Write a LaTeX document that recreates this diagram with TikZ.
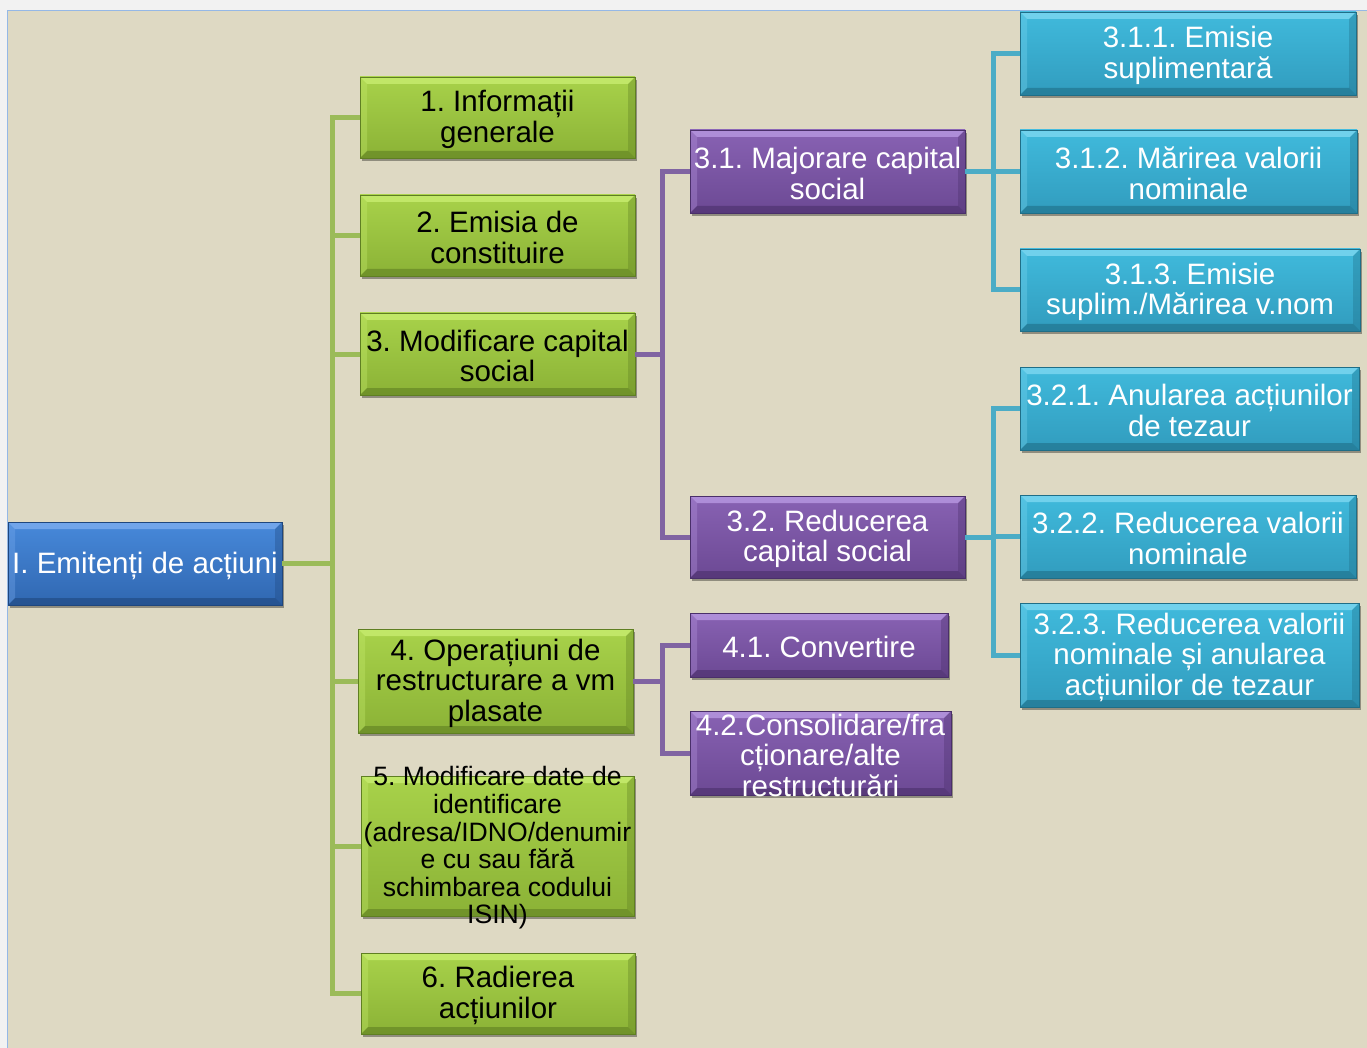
\documentclass[tikz,border=0pt]{standalone}
\usepackage{fontspec}
\setmainfont{Liberation Sans}
\frenchspacing
\usetikzlibrary{shadows}
\definecolor{outerbg}{HTML}{F2F2F2}
\definecolor{panel}{HTML}{DED9C3}
\definecolor{panelborder}{HTML}{95B8E6}
\definecolor{gA}{HTML}{A8D24A}\definecolor{gB}{HTML}{8BB236}\definecolor{gL}{HTML}{C6EC6E}\definecolor{gD}{HTML}{5F7F22}
\definecolor{cA}{HTML}{40BADC}\definecolor{cB}{HTML}{319CBE}\definecolor{cL}{HTML}{7AD6F0}\definecolor{cD}{HTML}{1F6E87}
\definecolor{pA}{HTML}{8862B3}\definecolor{pB}{HTML}{6C4994}\definecolor{pL}{HTML}{B696DF}\definecolor{pD}{HTML}{4A2F6A}
\definecolor{bA}{HTML}{4789DA}\definecolor{bB}{HTML}{3067B1}\definecolor{bL}{HTML}{79ABEE}\definecolor{bD}{HTML}{1F477E}
\definecolor{gline}{HTML}{9BBB59}
\definecolor{pline}{HTML}{8064A2}
\definecolor{cline}{HTML}{4BACC6}
\tikzset{
  bb/.style n args={4}{draw=#4, line width=0.6pt, top color=#1, bottom color=#2, inner sep=0pt,
    drop shadow={shadow xshift=2pt, shadow yshift=-3pt, opacity=0.35, fill=black},
    path picture={
      \fill[#3, opacity=0.85] (path picture bounding box.north west) -- (path picture bounding box.north east)
        -- ([xshift=-7pt,yshift=-7pt]path picture bounding box.north east) -- ([xshift=7pt,yshift=-7pt]path picture bounding box.north west) -- cycle;
      \fill[#3, opacity=0.35] (path picture bounding box.north west) -- (path picture bounding box.south west)
        -- ([xshift=7pt,yshift=7pt]path picture bounding box.south west) -- ([xshift=7pt,yshift=-7pt]path picture bounding box.north west) -- cycle;
      \fill[#4, opacity=0.35] (path picture bounding box.north east) -- (path picture bounding box.south east)
        -- ([xshift=-7pt,yshift=7pt]path picture bounding box.south east) -- ([xshift=-7pt,yshift=-7pt]path picture bounding box.north east) -- cycle;
      \fill[#4, opacity=0.6] (path picture bounding box.south west) -- (path picture bounding box.south east)
        -- ([xshift=-7pt,yshift=7pt]path picture bounding box.south east) -- ([xshift=7pt,yshift=7pt]path picture bounding box.south west) -- cycle;
    }},
  gbox/.style={bb={gA}{gB}{gL}{gD}},
  cbox/.style={bb={cA}{cB}{cL}{cD}},
  pbox/.style={bb={pA}{pB}{pL}{pD}},
  rbox/.style={bb={bA}{bB}{bL}{bD}},
  wtxt/.style={text=white, align=center, inner sep=0pt, yshift=-2pt, font=\fontsize{29.5}{30.5}\selectfont},
  ktxt/.style={text=black, align=center, inner sep=0pt, yshift=-2pt, font=\fontsize{29.5}{30.5}\selectfont},
  gconn/.style={draw=gline, line width=5pt},
  pconn/.style={draw=pline, line width=5pt},
  cconn/.style={draw=cline, line width=5pt},
}
\begin{document}
\begin{tikzpicture}[x=1pt,y=-1pt]
\useasboundingbox (0,0) rectangle (1367,1048);
\fill[outerbg] (0,0) rectangle (1367,1048);
\fill[panel] (7,10) rectangle (1367,1048);
\draw[panelborder, line width=1.5pt] (7.5,1048) -- (7.5,10.5) -- (1367,10.5);

\node[rbox, minimum width=274pt, minimum height=83pt] (root) at (145,563.5) {};
\node[gbox, minimum width=275pt, minimum height=81pt] (g1) at (497.5,117.5) {};
\node[gbox, minimum width=275pt, minimum height=81pt] (g2) at (497.5,235.5) {};
\node[gbox, minimum width=275pt, minimum height=82pt] (g3) at (497.5,354) {};
\node[gbox, minimum width=275pt, minimum height=104pt] (g4) at (495.5,681) {};
\node[gbox, minimum width=273pt, minimum height=140pt] (g5) at (497.5,846) {};
\node[gbox, minimum width=274pt, minimum height=81pt] (g6) at (498,993.5) {};
\node[pbox, minimum width=275pt, minimum height=83pt] (p31) at (827.5,171.5) {};
\node[pbox, minimum width=275pt, minimum height=82pt] (p32) at (827.5,537) {};
\node[pbox, minimum width=258pt, minimum height=64pt] (p41) at (819,645) {};
\node[pbox, minimum width=261pt, minimum height=84pt] (p42) at (820.5,753) {};
\node[cbox, minimum width=336pt, minimum height=83pt] (c311) at (1188,53.5) {};
\node[cbox, minimum width=337pt, minimum height=83pt] (c312) at (1188.5,171.5) {};
\node[cbox, minimum width=340pt, minimum height=82pt] (c313) at (1190,290) {};
\node[cbox, minimum width=339pt, minimum height=83pt] (c321) at (1189.5,408.5) {};
\node[cbox, minimum width=336pt, minimum height=83pt] (c322) at (1188,536.5) {};
\node[cbox, minimum width=339pt, minimum height=104pt] (c323) at (1189.5,655) {};

\foreach \n in {g1,g2,g3,g4,g5,g6}
  \draw[gconn] (root.east) -- ++(50,0) |- (\n.west);
\foreach \n in {p31,p32}
  \draw[pconn] (g3.east) -- ++(27,0) |- (\n.west);
\foreach \n in {p41,p42}
  \draw[pconn] (g4.east) -- ++(29,0) |- (\n.west);
\foreach \n in {c311,c312,c313}
  \draw[cconn] (p31.east) -- ++(28,0) |- (\n.west);
\foreach \n in {c321,c322,c323}
  \draw[cconn] (p32.east) -- ++(28,0) |- (\n.west);

\node[wtxt] (troot) at (root.center) {I. Emitenți de acțiuni};
\node[ktxt] (tg1) at (g1.center) {1. Informații\\generale};
\node[ktxt] (tg2) at (g2.center) {2. Emisia de\\constituire};
\node[ktxt] (tg3) at (g3.center) {3. Modificare capital\\social};
\node[ktxt] (tg4) at (g4.center) {4. Operațiuni de\\restructurare a vm\\plasate};
\node[ktxt, font=\fontsize{26.6}{27.6}\selectfont] (tg5) at (g5.center) {5. Modificare date de\\identificare\\(adresa/IDNO/denumir\\e cu sau fără\\schimbarea codului\\ISIN)};
\node[ktxt] (tg6) at (g6.center) {6. Radierea\\acțiunilor};
\node[wtxt] (tp31) at (p31.center) {3.1. Majorare capital\\social};
\node[wtxt] (tp32) at (p32.center) {3.2. Reducerea\\capital social};
\node[wtxt] (tp41) at (p41.center) {4.1. Convertire};
\node[wtxt] (tp42) at (p42.center) {4.2.Consolidare/fra\\cționare/alte\\restructurări};
\node[wtxt] (tc311) at (c311.center) {3.1.1. Emisie\\suplimentară};
\node[wtxt] (tc312) at (c312.center) {3.1.2. Mărirea valorii\\nominale};
\node[wtxt] (tc313) at (c313.center) {3.1.3. Emisie\\suplim./Mărirea v.nom};
\node[wtxt] (tc321) at (c321.center) {3.2.1. Anularea acțiunilor\\de tezaur};
\node[wtxt] (tc322) at (c322.center) {3.2.2. Reducerea valorii\\nominale};
\node[wtxt] (tc323) at (c323.center) {3.2.3. Reducerea valorii\\nominale și anularea\\acțiunilor de tezaur};
\end{tikzpicture}
\end{document}
